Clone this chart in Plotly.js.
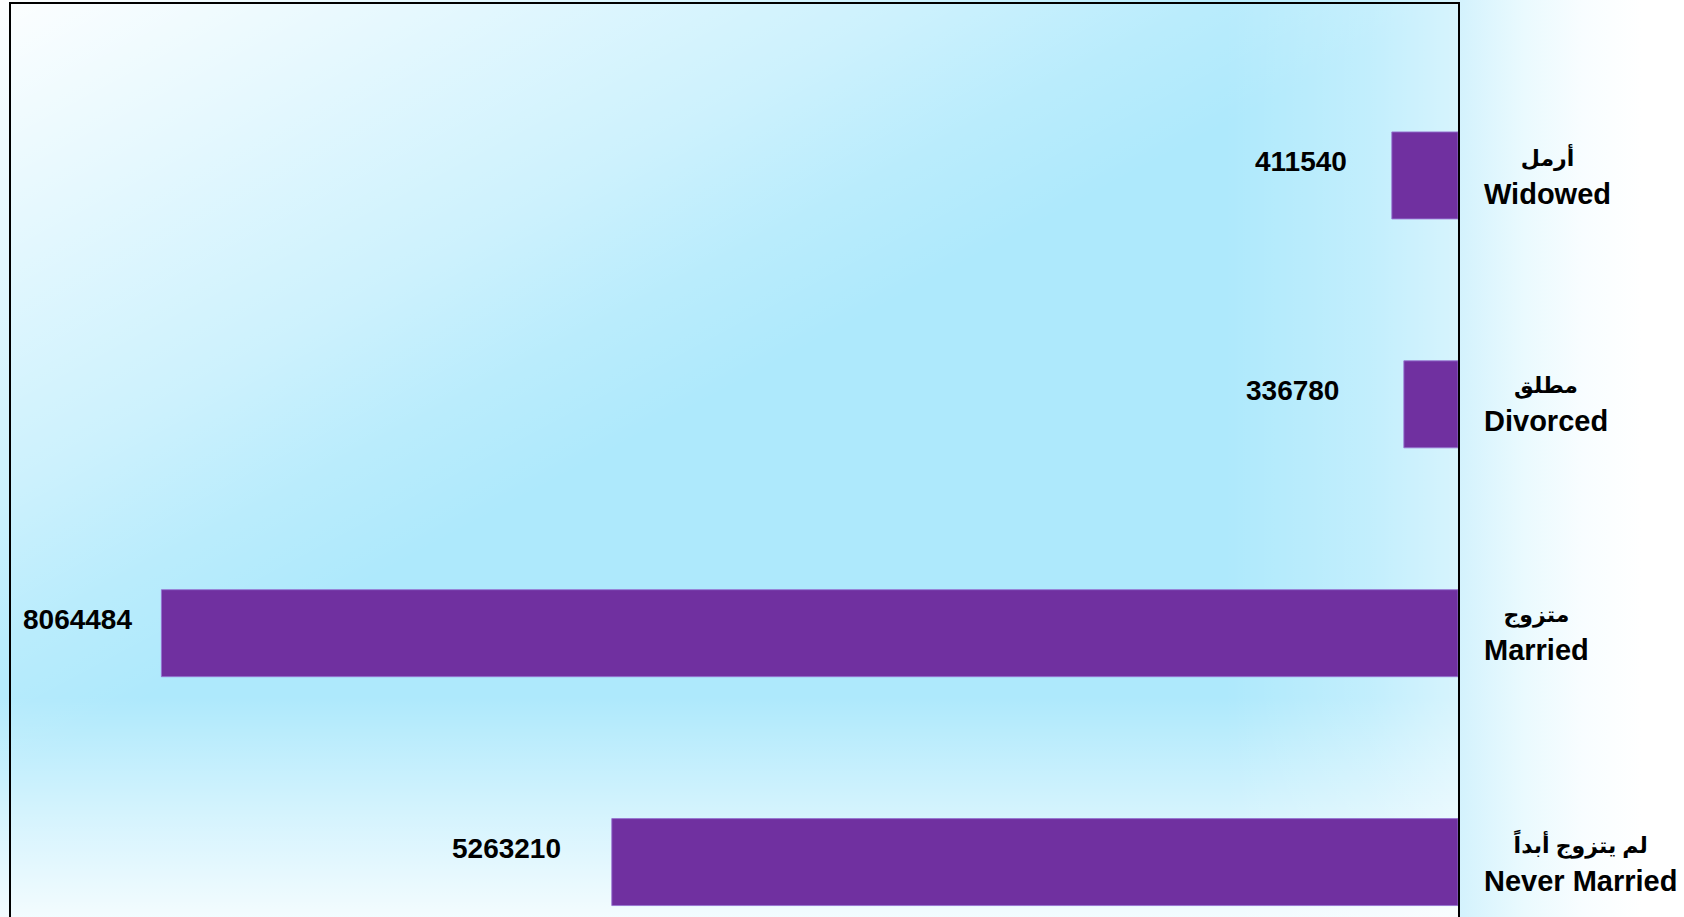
<!DOCTYPE html>
<html>
<head>
<meta charset="utf-8">
<script src="https://cdn.plot.ly/plotly-3.0.1.min.js"></script>
<style>
  html, body { margin: 0; padding: 0; width: 1684px; height: 917px; overflow: hidden; }
  body {
    background: linear-gradient(to right, #d3f2fd 0%, #d3f2fd 86.6%, #eafafe 90.5%, #f8fdff 94%, #ffffff 97.5%, #ffffff 100%);
    position: relative;
  }
  #bg {
    position: absolute; left: 0; top: 0; width: 1458px; height: 917px;
    background:
      linear-gradient(to left, rgba(255,255,255,0.5) 0%, rgba(255,255,255,0.25) 6%, rgba(255,255,255,0) 16%),
      linear-gradient(to bottom, rgba(255,255,255,0) 0%, rgba(255,255,255,0) 76%, rgba(255,255,255,0.45) 88%, rgba(255,255,255,0.85) 100%),
      linear-gradient(152deg, rgba(255,255,255,0.97) 0%, rgba(255,255,255,0.62) 17%, rgba(255,255,255,0.38) 29%, rgba(255,255,255,0.15) 38%, rgba(255,255,255,0) 46%),
      #aee9fc;
  }
  #chart { position: absolute; left: 0; top: 0; width: 1684px; height: 917px; }
</style>
</head>
<body>
<div id="bg"></div>
<div id="chart"></div>
<script>
// Data (top to bottom as shown)
const categoriesEn = ["Widowed", "Divorced", "Married", "Never Married"];
const categoriesAr = ["أرمل", "مطلق", "متزوج", "لم يتزوج أبداً"];
const values = [411540, 336780, 8064484, 5263210];

// label placement offsets (px), style only
const labelShift = [-43, -63, -27, -49];

const FONT = "Liberation Sans, Arial, DejaVu Sans, sans-serif";

const trace = {
  type: "bar",
  orientation: "h",
  x: values,
  y: categoriesEn,
  marker: { color: "#7030a0", line: { color: "rgba(150,115,210,0.9)", width: 1 } },
  hoverinfo: "none"
};

const annotations = [];
categoriesEn.forEach((c, i) => {
  annotations.push({
    xref: "paper", yref: "y", x: 1, y: c,
    xanchor: "left", yanchor: "middle", xshift: 24, yshift: -1,
    align: "center", showarrow: false,
    text: '<span style="font-size:22px">' + categoriesAr[i] + "</span><br>" + c,
    font: { family: FONT, size: 29, color: "#000000", weight: 700 }
  });
  annotations.push({
    xref: "x", yref: "y", x: values[i], y: c,
    xanchor: "right", yanchor: "middle", xshift: labelShift[i], yshift: 14,
    showarrow: false,
    text: String(values[i]),
    font: { family: FONT, size: 28, color: "#000000", weight: 700 }
  });
});

const layout = {
  width: 1684, height: 917,
  margin: { l: 11, r: 226, t: 4, b: 0, pad: 0 },
  paper_bgcolor: "rgba(0,0,0,0)",
  plot_bgcolor: "rgba(0,0,0,0)",
  showlegend: false,
  bargap: 0.62,
  xaxis: {
    range: [9000000, 0], side: "top",
    showline: true, linecolor: "#000000", linewidth: 2, mirror: false,
    showgrid: false, zeroline: false, showticklabels: false, ticks: "",
    fixedrange: true
  },
  yaxis: {
    type: "category", categoryorder: "array", categoryarray: categoriesEn,
    range: [3.24, -0.749],
    showline: true, linecolor: "#000000", linewidth: 2, mirror: true,
    showgrid: false, zeroline: false, showticklabels: false, ticks: "",
    fixedrange: true
  },
  annotations: annotations
};

Plotly.newPlot("chart", [trace], layout, { displayModeBar: false, staticPlot: true });
</script>
</body>
</html>
